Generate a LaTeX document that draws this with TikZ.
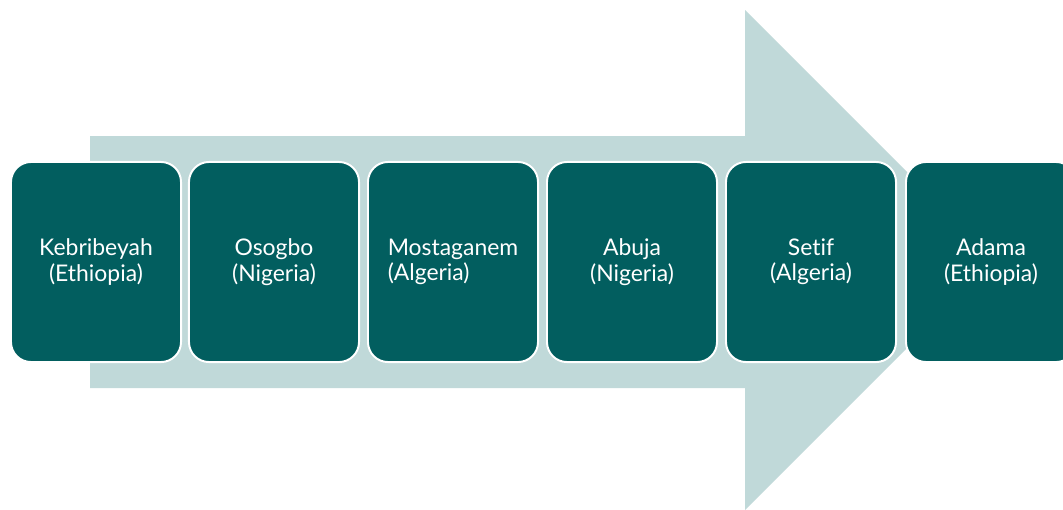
\documentclass[tikz,border=0pt]{standalone}
\usepackage{fontspec}
\setmainfont{Lato}[Ligatures={NoCommon}]
\usepackage{tikz}
\definecolor{arrowgray}{HTML}{C0D9D9}
\definecolor{cityteal}{HTML}{025E5F}

\begin{document}
\begin{tikzpicture}[x=0.025cm,y=-0.025cm]
                \tikzstyle{city}=[rectangle,rounded corners=0.5cm,draw=white,line width=1.4pt,fill=cityteal,
                        text=white,minimum width=4.25cm,minimum height=5.0cm,inner sep=2pt,
                        font=\fontsize{16.3}{18}\selectfont]
                \useasboundingbox (0,0) rectangle (1063,509);
                \clip (0,0) rectangle (1063,509);

                % big background arrow
                \fill[arrowgray] (90,136) -- (745,136) -- (745,10) -- (995,260)
                        -- (745,510) -- (745,388) -- (90,388) -- cycle;

                \foreach \num/\x/\al/\place/\land in {kebribeyah/96/center/Kebribeyah/Ethiopia,
                                osogbo/274/center/Osogbo/Nigeria, mostaganem/453/left/Mostaganem/Algeria,
                                abuja/632/center/Abuja/Nigeria, setif/811/center/Setif/Algeria,
                                adama/991/center/Adama/Ethiopia}
                        \node[city,align=\al] (C-\num) at (\x,262) {\place\\(\land)};

            \end{tikzpicture}
\end{document}
